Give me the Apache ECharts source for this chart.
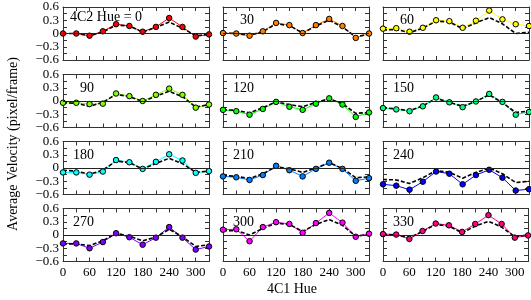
<!DOCTYPE html>
<html><head><meta charset="utf-8">
<script src="https://cdn.jsdelivr.net/npm/echarts@6/dist/echarts.min.js"></script>
<style>html,body{margin:0;padding:0;background:#fff}#c{width:531px;height:300px}</style>
</head><body><div id="c"></div>
<script>
// 4C1 hue values (x axis)
const hue1 = [0, 30, 60, 90, 120, 150, 180, 210, 240, 270, 300, 330];
// 4C2 hue per panel
const hue2 = [0, 30, 60, 90, 120, 150, 180, 210, 240, 270, 300, 330];
const panelColors = ['#ff0000','#ff8000','#ffff00','#80ff00','#00ff00','#00ff80','#00ffff','#0080ff','#0000ff','#8000ff','#ff00ff','#ff0080'];
const xTickLabels = ['0','60','120','180','240','300'];
const yTickLabels = ['−0.6','−0.3','0','0.3','0.6'];

// measured average velocity (coloured lines)
const meas0   = [0.00, 0.00, -0.05, 0.05, 0.21, 0.17, 0.04, 0.15, 0.35, 0.15, -0.07, -0.02];
const meas30  = [0.01, 0.00, -0.05, 0.05, 0.24, 0.19, 0.01, 0.19, 0.33, 0.17, -0.10, 0.00];
const meas60  = [0.11, 0.12, 0.04, 0.13, 0.30, 0.28, 0.13, 0.29, 0.52, 0.32, 0.21, 0.17];
const meas90  = [-0.04, -0.04, -0.07, -0.06, 0.17, 0.11, 0.00, 0.14, 0.28, 0.14, -0.15, -0.08];
const meas120 = [-0.20, -0.23, -0.31, -0.18, -0.02, -0.13, -0.20, -0.06, 0.06, -0.08, -0.36, -0.26];
const meas150 = [-0.16, -0.19, -0.23, -0.12, 0.08, -0.03, -0.14, -0.01, 0.16, -0.02, -0.31, -0.25];
const meas180 = [-0.10, -0.10, -0.15, -0.08, 0.18, 0.13, -0.02, 0.14, 0.31, 0.17, -0.11, -0.07];
const meas210 = [-0.19, -0.21, -0.27, -0.16, 0.05, -0.05, -0.19, -0.02, 0.12, -0.02, -0.29, -0.23];
const meas240 = [-0.37, -0.40, -0.49, -0.31, -0.08, -0.13, -0.37, -0.16, -0.04, -0.22, -0.51, -0.48];
const meas270 = [-0.19, -0.19, -0.30, -0.16, 0.04, -0.05, -0.22, -0.06, 0.18, -0.06, -0.33, -0.26];
const meas300 = [0.12, 0.13, -0.14, 0.18, 0.29, 0.25, 0.05, 0.27, 0.50, 0.28, -0.04, 0.03];
const meas330 = [0.02, 0.01, -0.09, 0.09, 0.26, 0.22, 0.07, 0.25, 0.45, 0.25, -0.06, -0.01];

// predicted (black dashed lines)
const pred0   = [0.00, 0.00, -0.05, 0.03, 0.19, 0.17, 0.03, 0.14, 0.26, 0.12, -0.05, -0.02];
const pred30  = [0.01, 0.00, -0.04, 0.04, 0.22, 0.18, 0.01, 0.17, 0.30, 0.15, -0.08, -0.01];
const pred60  = [0.08, 0.09, 0.02, 0.12, 0.28, 0.26, 0.11, 0.24, 0.36, 0.22, 0.00, 0.03];
const pred90  = [-0.04, -0.05, -0.12, -0.03, 0.15, 0.10, -0.01, 0.11, 0.22, 0.10, -0.14, -0.08];
const pred120 = [-0.20, -0.21, -0.27, -0.15, -0.02, -0.08, -0.13, -0.03, 0.05, -0.06, -0.28, -0.26];
const pred150 = [-0.15, -0.18, -0.22, -0.11, 0.06, -0.03, -0.12, -0.01, 0.14, -0.04, -0.26, -0.23];
const pred180 = [-0.05, -0.07, -0.14, -0.05, 0.16, 0.12, -0.02, 0.10, 0.22, 0.10, -0.10, -0.07];
const pred210 = [-0.17, -0.19, -0.24, -0.13, 0.03, -0.02, -0.10, 0.00, 0.12, -0.01, -0.22, -0.20];
const pred240 = [-0.26, -0.27, -0.35, -0.22, -0.06, -0.10, -0.23, -0.10, 0.00, -0.13, -0.33, -0.30];
const pred270 = [-0.20, -0.20, -0.24, -0.13, 0.04, -0.03, -0.13, -0.05, 0.13, -0.04, -0.26, -0.22];
const pred300 = [0.10, 0.10, 0.00, 0.15, 0.27, 0.24, 0.08, 0.24, 0.35, 0.22, -0.03, 0.02];
const pred330 = [0.02, 0.00, -0.06, 0.08, 0.24, 0.20, 0.05, 0.20, 0.31, 0.18, -0.04, 0.00];

const measSets = [meas0, meas30, meas60, meas90, meas120, meas150, meas180, meas210, meas240, meas270, meas300, meas330];
const predSets = [pred0, pred30, pred60, pred90, pred120, pred150, pred180, pred210, pred240, pred270, pred300, pred330];

const FONT = '"Liberation Serif","DejaVu Serif",serif';
const colLeft = [63, 223, 383];
const panelW = 146;
const rowTop = [7, 74.5, 141.5, 208.5];
const panelH = 53;
const AX = '#333';

const grids = [], xAxes = [], yAxes = [], series = [], graphics = [];

function yFmt(v) {
  const k = Math.round(v / 0.15);
  if (k % 2 !== 0) return '';
  return yTickLabels[k / 2 + 2] || '';
}
function xFmt(v) {
  const r = Math.round(v);
  if (r % 60 !== 0) return '';
  return xTickLabels[r / 60] || '';
}

for (let i = 0; i < 12; i++) {
  const row = Math.floor(i / 3), col = i % 3;
  grids.push({ left: colLeft[col], top: rowTop[row], width: panelW, height: panelH });
  const base = {
    gridIndex: i, type: 'value', min: 0, max: 330, interval: 30,
    axisLine: { show: true, onZero: false, lineStyle: { color: AX, width: 1 } },
    axisTick: { show: true, inside: true, length: 4, lineStyle: { color: AX } },
    splitLine: { show: false }
  };
  xAxes.push(Object.assign({}, base, {
    position: 'bottom',
    axisLabel: { show: row === 3, formatter: xFmt, fontFamily: FONT, fontSize: 13, color: '#000', margin: 5 }
  }));
  xAxes.push(Object.assign({}, base, { position: 'top', axisLabel: { show: false } }));
  const ybase = {
    gridIndex: i, type: 'value', min: -0.6, max: 0.6, interval: 0.15,
    axisLine: { show: true, onZero: false, lineStyle: { color: AX, width: 1 } },
    axisTick: { show: true, inside: true, length: 4, lineStyle: { color: AX } },
    splitLine: { show: false }
  };
  yAxes.push(Object.assign({}, ybase, {
    position: 'left',
    axisLabel: { show: col === 0, formatter: yFmt, fontFamily: FONT, fontSize: 13, color: '#000', margin: 4 }
  }));
  yAxes.push(Object.assign({}, ybase, { position: 'right', axisLabel: { show: false } }));

  const m = hue1.map((x, j) => [x, measSets[i][j]]);
  const p = hue1.map((x, j) => [x, predSets[i][j]]);
  series.push({
    type: 'line', xAxisIndex: 2 * i, yAxisIndex: 2 * i, data: m, showSymbol: false, z: 2,
    lineStyle: { color: panelColors[i], width: 1 }, silent: true, animation: false,
    markLine: { silent: true, symbol: 'none', label: { show: false }, animation: false,
      lineStyle: { color: '#222', width: 1, type: 'solid' }, data: [{ yAxis: 0 }] }
  });
  series.push({
    type: 'line', xAxisIndex: 2 * i, yAxisIndex: 2 * i, data: p, showSymbol: false, z: 3,
    lineStyle: { color: '#000', width: 1.6, type: [4, 2] }, silent: true, animation: false
  });
  series.push({
    type: 'scatter', xAxisIndex: 2 * i, yAxisIndex: 2 * i, data: m, symbol: 'circle', symbolSize: 5.5, z: 4,
    itemStyle: { color: panelColors[i], borderColor: '#000', borderWidth: 1, opacity: 1 }, silent: true, animation: false
  });

  const label = i === 0 ? '4C2 Hue = 0' : String(hue2[i]);
  graphics.push({
    type: 'text',
    x: i === 0 ? colLeft[col] + 7 : colLeft[col] + 31,
    y: rowTop[row] + (i === 0 ? 10 : 13.5),
    style: { text: label, font: '14px ' + FONT, fill: '#000',
      textAlign: i === 0 ? 'left' : 'right', align: i === 0 ? 'left' : 'right',
      textVerticalAlign: 'middle', verticalAlign: 'middle' }
  });
}

graphics.push({
  type: 'text', x: 13, y: 144, rotation: Math.PI / 2,
  style: { text: 'Average Velocity (pixel/frame)', font: '14px ' + FONT, fill: '#000',
    textAlign: 'center', align: 'center', textVerticalAlign: 'middle', verticalAlign: 'middle' }
});
graphics.push({
  type: 'text', x: 292, y: 289,
  style: { text: '4C1 Hue', font: '14px ' + FONT, fill: '#000',
    textAlign: 'center', align: 'center', textVerticalAlign: 'middle', verticalAlign: 'middle' }
});

const chart = echarts.init(document.getElementById('c'), null, { renderer: 'canvas' });
chart.setOption({
  animation: false,
  backgroundColor: '#fff',
  grid: grids, xAxis: xAxes, yAxis: yAxes, series: series, graphic: graphics
});
</script></body></html>
